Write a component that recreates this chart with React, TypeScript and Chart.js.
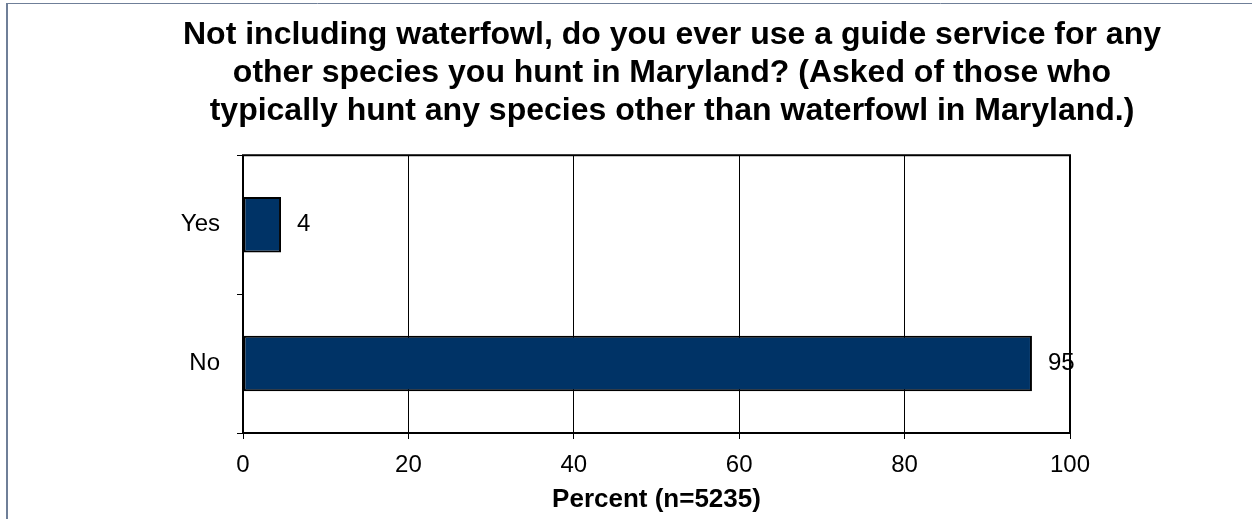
import React, { useEffect, useRef } from "react";
import { Chart, registerables } from "chart.js";

Chart.register(...registerables);

const categories = ["Yes", "No"];
const percentValues = [4.6, 95.4];
const valueLabels = ["4", "95"];
const xTickStep = 20;
const xMin = 0;
const xMax = 100;
const titleLines = [
  "Not including waterfowl, do you ever use a guide service for any",
  "other species you hunt in Maryland? (Asked of those who",
  "typically hunt any species other than waterfowl in Maryland.)",
];
const axisTitle = "Percent (n=5235)";

const FONT = "'Liberation Sans', Arial, Helvetica, sans-serif";

const framePlugin = {
  id: "frame",
  beforeDraw(chart: any) {
    const { ctx, width, height } = chart;
    ctx.save();
    ctx.fillStyle = "#ffffff";
    ctx.fillRect(0, 0, width, height);
    ctx.strokeStyle = "#6f7f98";
    ctx.lineWidth = 1;
    ctx.beginPath();
    ctx.moveTo(6, 3.5);
    ctx.lineTo(width, 3.5);
    ctx.stroke();
    ctx.lineWidth = 2;
    ctx.beginPath();
    ctx.moveTo(7, 3);
    ctx.lineTo(7, height);
    ctx.stroke();
    ctx.restore();
  },
};

const plotBorderPlugin = {
  id: "plotBorder",
  afterDatasetsDraw(chart: any) {
    const { ctx, chartArea } = chart;
    ctx.save();
    ctx.strokeStyle = "#000000";
    ctx.lineWidth = 2;
    ctx.strokeRect(
      chartArea.left,
      chartArea.top,
      chartArea.right - chartArea.left,
      chartArea.bottom - chartArea.top
    );
    ctx.restore();
  },
};

const valueLabelPlugin = {
  id: "valueLabels",
  afterDraw(chart: any) {
    const { ctx } = chart;
    const meta = chart.getDatasetMeta(0);
    ctx.save();
    ctx.fillStyle = "#000000";
    ctx.font = `24px ${FONT}`;
    ctx.textAlign = "left";
    ctx.textBaseline = "middle";
    meta.data.forEach((bar: any, i: number) => {
      ctx.fillText(valueLabels[i], bar.x + 16, bar.y);
    });
    ctx.restore();
  },
};

export default function App() {
  const canvasRef = useRef<HTMLCanvasElement | null>(null);

  useEffect(() => {
    document.body.style.margin = "0";
    const canvas = canvasRef.current;
    if (!canvas) return;
    const chart = new Chart(canvas, {
      type: "bar",
      data: {
        labels: categories,
        datasets: [
          {
            data: percentValues,
            backgroundColor: "#003366",
            borderColor: "#000000",
            borderWidth: 2,
            borderSkipped: false,
            barPercentage: 0.4,
            categoryPercentage: 1,
          },
        ],
      },
      options: {
        indexAxis: "y",
        responsive: false,
        animation: false,
        devicePixelRatio: 1,
        layout: { padding: { left: 92, right: 0, top: 0, bottom: 0 } },
        plugins: {
          legend: { display: false },
          tooltip: { enabled: false },
          title: {
            display: true,
            text: titleLines,
            color: "#000000",
            font: { family: FONT, size: 32, weight: "bold", lineHeight: 1.19 },
            padding: { top: 16, bottom: 25 },
          },
        },
        scales: {
          x: {
            type: "linear",
            min: xMin,
            max: xMax,
            ticks: {
              stepSize: xTickStep,
              color: "#000000",
              font: { family: FONT, size: 24 },
              padding: 12,
            },
            grid: {
              color: "#000000",
              lineWidth: 1,
              drawTicks: true,
              tickLength: 6,
            },
            border: { display: false },
            title: {
              display: true,
              text: axisTitle,
              color: "#000000",
              font: { family: FONT, size: 26, weight: "bold", lineHeight: 1.2 },
              padding: { top: 4, bottom: 4 },
            },
            afterFit(scale: any) {
              scale.height = 86;
            },
          },
          y: {
            type: "category",
            ticks: {
              color: "#000000",
              font: { family: FONT, size: 24 },
              padding: 17,
            },
            grid: {
              offset: true,
              drawOnChartArea: false,
              drawTicks: true,
              tickLength: 6,
              color: "#000000",
              lineWidth: 1,
            },
            border: { display: false },
            afterFit(scale: any) {
              scale.width = 151;
            },
          },
          y2: {
            type: "linear",
            position: "right",
            display: true,
            grid: { display: false },
            ticks: { display: false },
            border: { display: false },
            afterFit(scale: any) {
              scale.width = 182;
            },
          },
        },
      },
      plugins: [framePlugin, plotBorderPlugin, valueLabelPlugin],
    });
    return () => chart.destroy();
  }, []);

  return (
    <div style={{ position: "absolute", left: 0, top: 0, width: 1252, height: 519 }}>
      <canvas ref={canvasRef} width={1252} height={519} />
    </div>
  );
}
